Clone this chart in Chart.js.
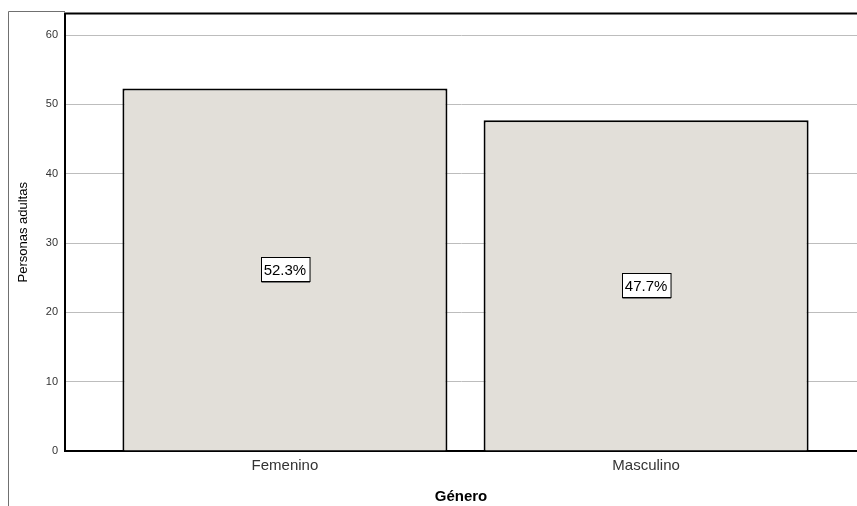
<!DOCTYPE html>
<html>
<head>
<meta charset="utf-8">
<script src="https://cdn.jsdelivr.net/npm/chart.js@4.4.1/dist/chart.umd.min.js"></script>
<style>
  html, body { margin: 0; padding: 0; background: #fff; }
  #wrap { width: 857px; height: 506px; position: relative; }
</style>
</head>
<body>
<div id="wrap"><canvas id="genderChart"></canvas></div>
<script>
// data
const categories = ['Femenino', 'Masculino'];
const values = [52.3, 47.7];
const percentLabels = ['52.3%', '47.7%'];
const yTicks = [0, 10, 20, 30, 40, 50, 60];

const FONT = "'Liberation Sans', Arial, sans-serif";

// outer frame + top border of the plot area
const framePlugin = {
  id: 'frame',
  afterDraw(chart) {
    const { ctx, chartArea } = chart;
    ctx.save();
    ctx.strokeStyle = '#707070';
    ctx.lineWidth = 1;
    ctx.beginPath();
    ctx.moveTo(8.5, 506);
    ctx.lineTo(8.5, 11.5);
    ctx.lineTo(chartArea.left, 11.5);
    ctx.stroke();
    ctx.strokeStyle = '#000';
    ctx.lineWidth = 2;
    ctx.beginPath();
    ctx.moveTo(chartArea.left - 1, chartArea.top);
    ctx.lineTo(chartArea.right, chartArea.top);
    ctx.stroke();
    ctx.restore();
  }
};

// boxed percentage labels in the middle of each bar
const boxLabels = {
  id: 'boxLabels',
  afterDatasetsDraw(chart) {
    const { ctx } = chart;
    const meta = chart.getDatasetMeta(0);
    ctx.save();
    ctx.font = '15px ' + FONT;
    ctx.textAlign = 'center';
    ctx.textBaseline = 'middle';
    meta.data.forEach((bar, i) => {
      const text = percentLabels[i];
      const cy = (bar.y + bar.base) / 2;
      const w = ctx.measureText(text).width + 6;
      const h = 24;
      const x0 = Math.round(bar.x - w / 2) + 0.5;
      const y0 = Math.round(cy - h / 2) + 0.5;
      ctx.fillStyle = '#fff';
      ctx.fillRect(x0, y0, w, h);
      ctx.strokeStyle = '#000';
      ctx.lineWidth = 1;
      ctx.strokeRect(x0, y0, w, h);
      ctx.strokeStyle = '#777';
      ctx.beginPath();
      ctx.moveTo(x0, y0 + h + 1);
      ctx.lineTo(x0 + w, y0 + h + 1);
      ctx.stroke();
      ctx.fillStyle = '#000';
      ctx.fillText(text, bar.x, cy + 1);
    });
    ctx.restore();
  }
};

new Chart(document.getElementById('genderChart'), {
  type: 'bar',
  data: {
    datasets: [{
      data: categories.map((c, i) => ({ x: i, y: values[i] })),
      backgroundColor: '#e2dfd9',
      borderColor: '#000',
      borderWidth: 2,
      borderSkipped: 'bottom',
      barPercentage: 0.9,
      categoryPercentage: 1
    }]
  },
  options: {
    responsive: true,
    maintainAspectRatio: false,
    animation: false,
    layout: { padding: { top: 11, right: 0, left: 0, bottom: 0 } },
    plugins: {
      legend: { display: false },
      tooltip: { enabled: false }
    },
    scales: {
      x: {
        type: 'linear',
        offset: false,
        min: -0.609,
        max: 1.584,
        afterBuildTicks: (scale) => {
          scale.ticks = categories.map((c, i) => ({ value: i }));
        },
        afterFit: (scale) => { scale.height = 55; },
        grid: { display: false, drawTicks: false, offset: false },
        border: { color: '#000', width: 2 },
        ticks: {
          autoSkip: false,
          maxRotation: 0,
          padding: 6,
          color: '#333',
          font: { family: FONT, size: 15 },
          callback: (v) => categories[v]
        },
        title: {
          display: true,
          text: 'Género',
          color: '#000',
          font: { family: FONT, size: 15, weight: 'bold' },
          padding: { top: 6, bottom: 0 }
        }
      },
      y: {
        min: 0,
        max: 63.1,
        afterBuildTicks: (scale) => {
          scale.ticks = yTicks.map(v => ({ value: v }));
        },
        afterFit: (scale) => { scale.width = 65; },
        grid: {
          color: (c) => c.tick && c.tick.value === 0 ? 'rgba(0,0,0,0)' : '#bdbdbd',
          lineWidth: 1,
          drawTicks: false
        },
        border: { color: '#000', width: 2 },
        ticks: {
          padding: 7,
          color: '#333',
          font: { family: FONT, size: 11 }
        },
        title: {
          display: true,
          text: 'Personas adultas',
          color: '#000',
          font: { family: FONT, size: 13 },
          padding: { top: 16, bottom: 0 }
        }
      }
    }
  },
  plugins: [framePlugin, boxLabels]
});
</script>
</body>
</html>
